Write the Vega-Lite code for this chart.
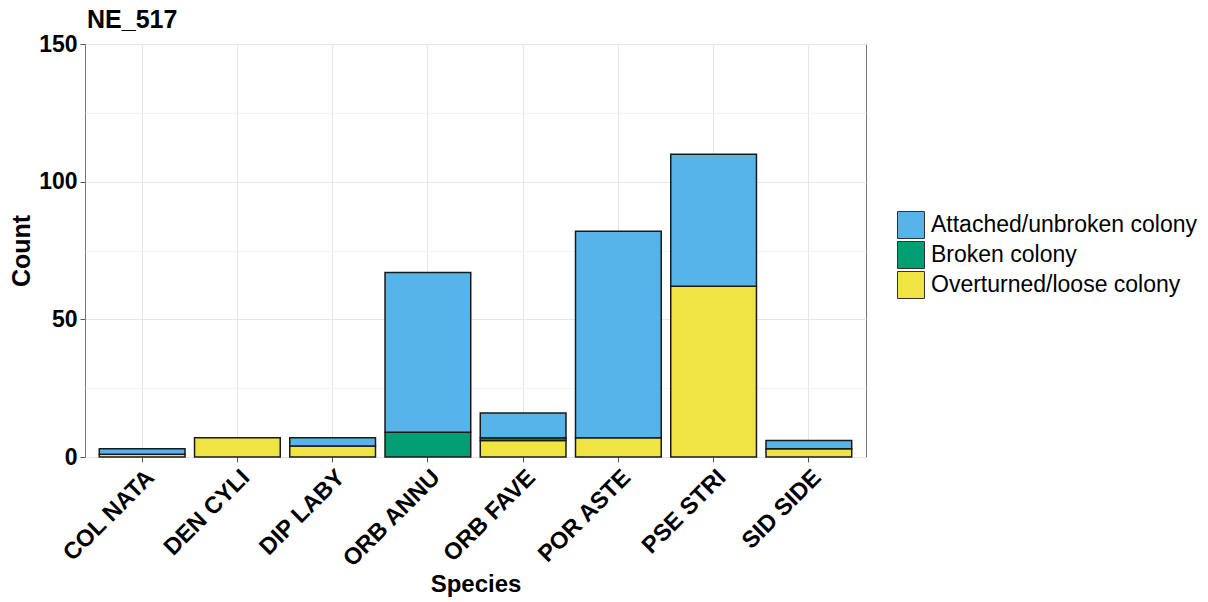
{
  "$schema": "https://vega.github.io/schema/vega-lite/v6.json",
  "width": 781,
  "height": 413,
  "autosize": "none",
  "padding": {"left": 85, "top": 44, "right": 342, "bottom": 145},
  "background": "white",
  "title": {"text": "NE_517", "anchor": "start", "frame": "group", "font": "Liberation Sans", "fontSize": 25, "fontWeight": "bold", "color": "black", "offset": 9, "dy": 9, "dx": 2},
  "data": {"values": [
    {"species": "COL NATA", "cond": "Overturned/loose colony", "ord": 1, "count": 1},
    {"species": "COL NATA", "cond": "Attached/unbroken colony", "ord": 3, "count": 2},
    {"species": "DEN CYLI", "cond": "Overturned/loose colony", "ord": 1, "count": 7},
    {"species": "DIP LABY", "cond": "Overturned/loose colony", "ord": 1, "count": 4},
    {"species": "DIP LABY", "cond": "Attached/unbroken colony", "ord": 3, "count": 3},
    {"species": "ORB ANNU", "cond": "Broken colony", "ord": 2, "count": 9},
    {"species": "ORB ANNU", "cond": "Attached/unbroken colony", "ord": 3, "count": 58},
    {"species": "ORB FAVE", "cond": "Overturned/loose colony", "ord": 1, "count": 6},
    {"species": "ORB FAVE", "cond": "Broken colony", "ord": 2, "count": 1},
    {"species": "ORB FAVE", "cond": "Attached/unbroken colony", "ord": 3, "count": 9},
    {"species": "POR ASTE", "cond": "Overturned/loose colony", "ord": 1, "count": 7},
    {"species": "POR ASTE", "cond": "Attached/unbroken colony", "ord": 3, "count": 75},
    {"species": "PSE STRI", "cond": "Overturned/loose colony", "ord": 1, "count": 62},
    {"species": "PSE STRI", "cond": "Attached/unbroken colony", "ord": 3, "count": 48},
    {"species": "SID SIDE", "cond": "Overturned/loose colony", "ord": 1, "count": 3},
    {"species": "SID SIDE", "cond": "Attached/unbroken colony", "ord": 3, "count": 3}
  ]},
  "mark": {"type": "bar", "stroke": "#1a1a1a", "strokeWidth": 1.5},
  "encoding": {
    "x": {
      "field": "species", "type": "nominal",
      "scale": {"paddingInner": 0.1, "paddingOuter": 0.15},
      "axis": {
        "title": "Species", "labelAngle": -45, "labelAlign": "right", "labelBaseline": "top",
        "bandPosition": 0.5, "grid": true, "labelPadding": 3, "titlePadding": 1,
        "labelFontSize": 23.5, "labelLimit": 300, "titleFontSize": 24
      }
    },
    "y": {
      "field": "count", "type": "quantitative", "aggregate": "sum", "stack": "zero",
      "scale": {"domain": [0, 150], "nice": false},
      "axis": {
        "title": "Count",
        "values": [0, 25, 50, 75, 100, 125, 150],
        "labelExpr": "datum.value % 50 === 0 ? datum.label : ''",
        "tickColor": {"condition": {"test": "datum.value % 50 === 0", "value": "#555555"}, "value": "transparent"},
        "gridColor": {"condition": {"test": "datum.value % 50 === 0", "value": "#e6e6e6"}, "value": "#f2f2f2"},
        "grid": true, "titlePadding": 4, "labelFontSize": 23
      }
    },
    "color": {
      "field": "cond", "type": "nominal",
      "scale": {
        "domain": ["Attached/unbroken colony", "Broken colony", "Overturned/loose colony"],
        "range": ["#56B4E9", "#009E73", "#F0E442"]
      },
      "legend": {
        "title": null, "orient": "none", "legendX": 812, "legendY": 167,
        "symbolType": "square", "symbolSize": 729, "symbolStrokeColor": "#333333", "symbolStrokeWidth": 1,
        "symbolOpacity": 1, "symbolFillOpacity": 1,
        "labelFontSize": 23, "labelFont": "Liberation Sans", "labelColor": "black", "labelOffset": 6,
        "rowPadding": -3, "labelLimit": 400
      }
    },
    "order": {"field": "ord", "type": "quantitative"}
  },
  "config": {
    "font": "Liberation Sans",
    "view": {"stroke": "#777777", "strokeWidth": 1},
    "axis": {
      "labelFont": "Liberation Sans", "labelFontWeight": "bold", "labelColor": "black",
      "titleFont": "Liberation Sans", "titleFontSize": 25, "titleFontWeight": "bold", "titleColor": "black",
      "domain": false, "tickColor": "#555555", "tickSize": 5, "gridColor": "#e6e6e6", "gridWidth": 1, "labelPadding": 3
    }
  }
}
